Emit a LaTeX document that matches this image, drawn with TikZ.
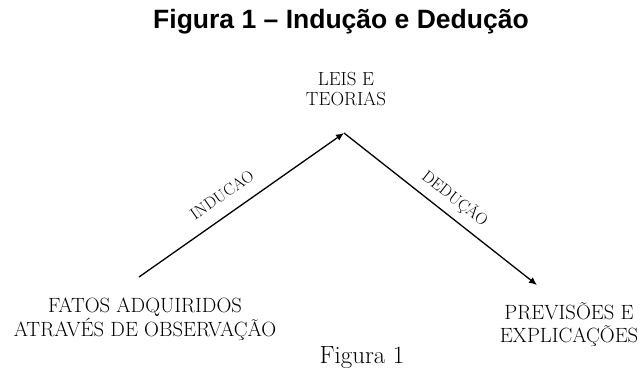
\documentclass[tikz,border=0pt]{standalone}
\usepackage{fontspec}
\newfontfamily\titlefont{Liberation Sans}
\usetikzlibrary{arrows.meta}

\tikzset{
	caption/.style = {font = \titlefont\bfseries\fontsize{26.6}{30}\selectfont},
	labeltext/.style = {font = \fontsize{20.7}{22.5}\selectfont, align = center, inner sep = 0pt},
	arrowlabel/.style = {font = \fontsize{16.5}{18}\selectfont, sloped, inner sep = 0pt},
	arrowline/.style = {line width = 1.3bp, -{Latex[length = 8bp, width = 7bp]}}
}

\begin{document}
\begin{tikzpicture}[x = 1bp, y = -1bp]
		\useasboundingbox (0, 0) rectangle (641, 380);
		\node[caption] (title) at (341, 22) {Figura 1 – Indução e Dedução};
		\node[labeltext, font = \fontsize{19}{21}\selectfont] (leis) at (346, 89) {LEIS E\\TEORIAS};
		\node[labeltext] (fatos) at (145, 319.5) {FATOS ADQUIRIDOS\\ATRAVÉS DE OBSERVAÇÃO};
		\node[labeltext] (previsoes) at (569, 324.5) {PREVISÕES E\\EXPLICAÇÕES};
		\node[font = \fontsize{25}{29}\selectfont] (figura) at (362, 358) {Figura 1};
		\coordinate (fatosend) at (139, 277);
		\coordinate (apex) at (344, 133);
		\coordinate (previsoesend) at (537, 285);
		\draw[arrowline] (fatosend) -- node[arrowlabel, pos = 0.46, above = 13bp] {INDUCAO} (apex);
		\draw[arrowline] (apex) -- node[arrowlabel, pos = 0.52, above = 8bp] {DEDUÇÃO} (previsoesend);
	\end{tikzpicture}
\end{document}
